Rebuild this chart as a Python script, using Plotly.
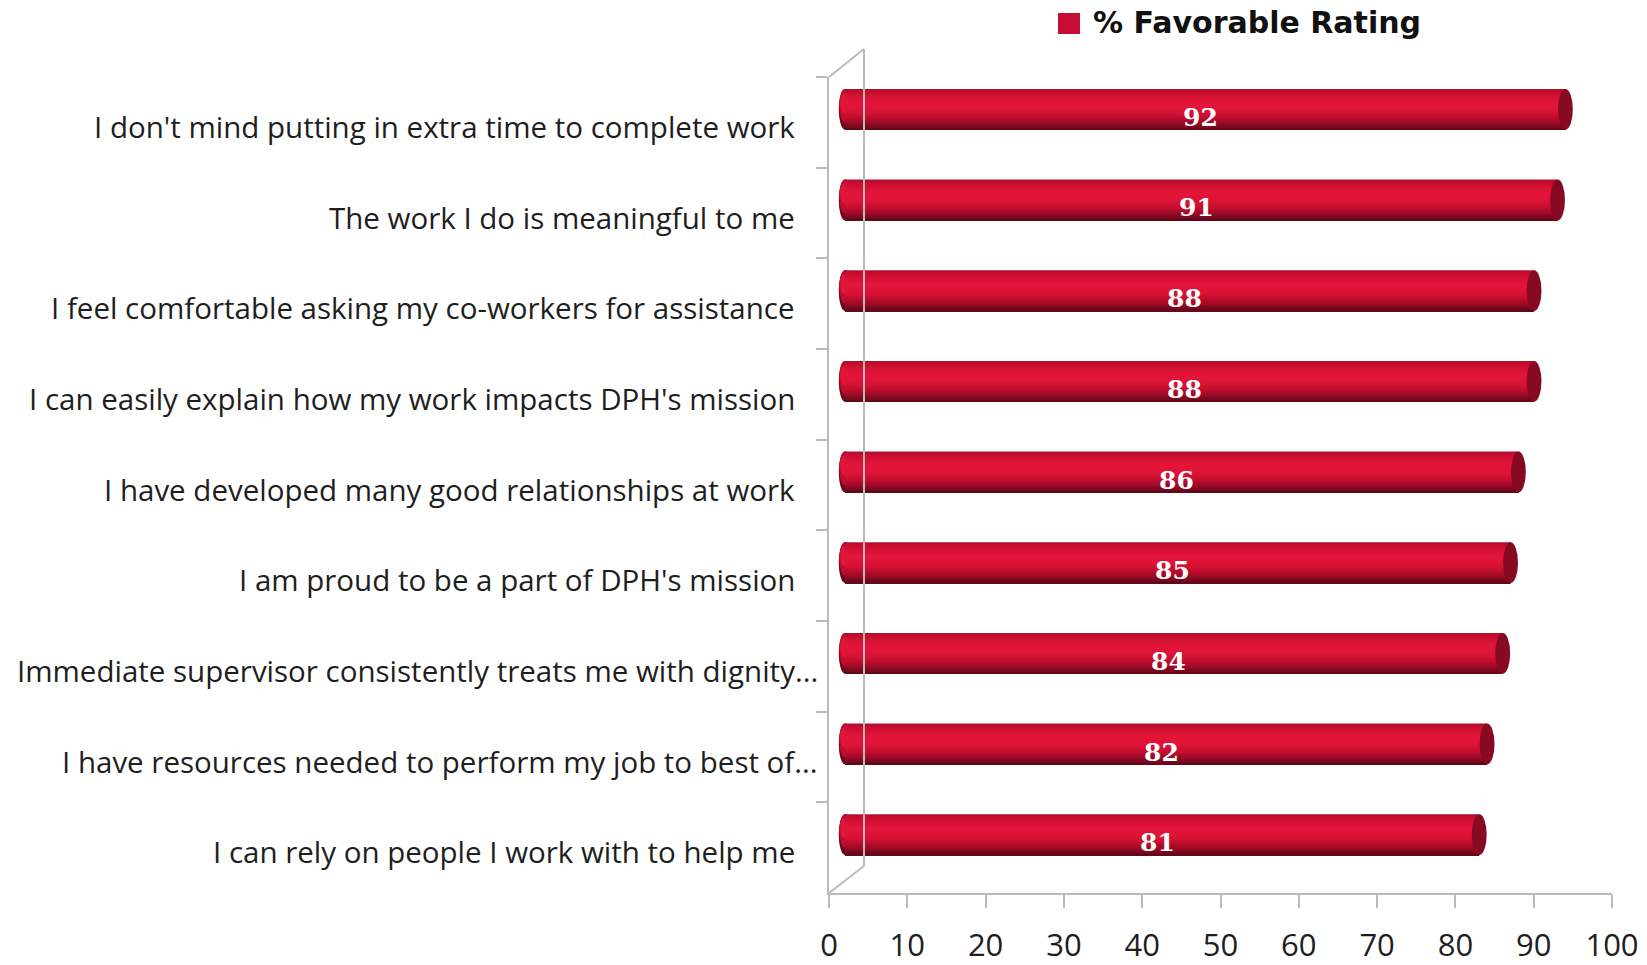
import plotly.graph_objects as go

# ---- data (top row first) ----
categories = [
    "I don't mind putting in extra time to complete work",
    "The work I do is meaningful to me",
    "I feel comfortable asking my co-workers for assistance",
    "I can easily explain how my work impacts DPH's mission",
    "I have developed many good relationships at work",
    "I am proud to be a part of DPH's mission",
    "Immediate supervisor consistently treats me with dignity...",
    "I have resources needed to perform my job to best of...",
    "I can rely on people I work with to help me",
]
values = [92, 91, 88, 88, 86, 85, 84, 82, 81]
series_name = "% Favorable Rating"
x_ticks = [0, 10, 20, 30, 40, 50, 60, 70, 80, 90, 100]

# bottom-up order for the category axis
cats_bu = categories[::-1]
vals_bu = values[::-1]

PAGE_OFF = 0            # body margin removed in the page (post_script)
W, H = 1647 - PAGE_OFF, 965 - PAGE_OFF


def px_x(p):            # page pixel -> paper fraction
    return (p - PAGE_OFF) / W


def px_y(p):
    return 1 - (p - PAGE_OFF) / H


# geometry (page pixels)
front_x0, front_x1 = 829, 1612
front_y_top, front_y_bot = 77, 893
dx, dy = 16, 13            # shift of the bars (middle of the 3-D depth)
back_dx, back_dy = 35, 27  # back wall shift
ppu = (front_x1 - front_x0) / 100.0
x2_lo = -3.0
label_right = 797          # right edge of the category labels
label_right_trunc = 820    # truncated ("...") labels sit further right

bar_w = 0.45

# cylinder shading (top -> bottom)
stops = [
    (0.00, (0xB5, 0x0B, 0x2B)),
    (0.12, (0xCC, 0x0F, 0x31)),
    (0.32, (0xE3, 0x15, 0x3A)),
    (0.50, (0xE0, 0x14, 0x38)),
    (0.68, (0xC6, 0x0E, 0x2F)),
    (0.84, (0x98, 0x0A, 0x25)),
    (1.00, (0x5E, 0x06, 0x17)),
]


def shade(t):
    for (t0, c0), (t1, c1) in zip(stops[:-1], stops[1:]):
        if t0 <= t <= t1:
            f = (t - t0) / (t1 - t0)
            c = [round(a + (b - a) * f) for a, b in zip(c0, c1)]
            return "rgb(%d,%d,%d)" % tuple(c)
    return "rgb(%d,%d,%d)" % stops[-1][1]


n = 22
sw = bar_w / n

fig = go.Figure()
# each band spans from the bar bottom up to its own top edge; drawn top band first
for k in range(n):
    top = bar_w / 2 - k * sw
    fig.add_trace(go.Bar(
        x=vals_bu, y=cats_bu, orientation="h",
        xaxis="x2", yaxis="y2",
        width=top + bar_w / 2, offset=-bar_w / 2,
        marker=dict(color=shade((k + 0.5) / n), line=dict(width=0)),
        showlegend=False, hoverinfo="x+y" if k == 0 else "skip",
        name=series_name,
    ))

# invisible trace on the front axes so that the tick axes are drawn
fig.add_trace(go.Scatter(x=[None], y=[cats_bu[0]], xaxis="x", yaxis="y",
                         mode="markers", showlegend=False, hoverinfo="skip"))

shapes = []
for i, v in enumerate(vals_bu):
    # left rounded end, layered to mimic shading
    shapes.append(dict(type="circle", xref="x2", yref="y2", layer="below",
                       x0=-0.8, x1=0.8, y0=i - bar_w / 2, y1=i + bar_w / 2,
                       fillcolor="#6E081C", line=dict(width=0)))
    shapes.append(dict(type="circle", xref="x2", yref="y2", layer="below",
                       x0=-0.74, x1=0.74, y0=i - bar_w * 0.32, y1=i + bar_w / 2,
                       fillcolor="#BE0E2F", line=dict(width=0)))
    shapes.append(dict(type="circle", xref="x2", yref="y2", layer="below",
                       x0=-0.62, x1=0.62, y0=i - bar_w * 0.1, y1=i + bar_w * 0.4,
                       fillcolor="#E0153A", line=dict(width=0)))
    # right cap
    shapes.append(dict(type="circle", xref="x2", yref="y2", layer="above",
                       x0=v - 0.95, x1=v + 0.95, y0=i - bar_w / 2, y1=i + bar_w / 2,
                       fillcolor="#870A23", line=dict(width=0)))

# back wall / depth lines
gray = "#BDB9B4"
shapes += [
    dict(type="line", xref="paper", yref="paper",
         x0=px_x(front_x0 + back_dx), x1=px_x(front_x0 + back_dx),
         y0=px_y(front_y_top - back_dy - 1), y1=px_y(front_y_bot - back_dy),
         line=dict(color=gray, width=2)),
    dict(type="line", xref="paper", yref="paper",
         x0=px_x(front_x0), x1=px_x(front_x0 + back_dx),
         y0=px_y(front_y_top), y1=px_y(front_y_top - back_dy - 1),
         line=dict(color=gray, width=2)),
    dict(type="line", xref="paper", yref="paper",
         x0=px_x(front_x0), x1=px_x(front_x0 + back_dx),
         y0=px_y(front_y_bot), y1=px_y(front_y_bot - back_dy),
         line=dict(color=gray, width=2)),
    # legend swatch
    dict(type="rect", xref="paper", yref="paper",
         x0=px_x(1058), x1=px_x(1080), y0=px_y(34), y1=px_y(13),
         fillcolor="#C70C33", line=dict(width=0)),
]

annotations = []
# category labels
for c in cats_bu:
    right = label_right_trunc if c.endswith("...") else label_right
    annotations.append(dict(
        xref="paper", yref="y", x=px_x(right), y=c, xanchor="right",
        yanchor="middle", yshift=-4, text=c, showarrow=False,
        font=dict(family="Open Sans", size=29.5, color="#1E1E1E"),
    ))
# value labels
for i, v in enumerate(vals_bu):
    annotations.append(dict(
        xref="x2", yref="y2", x=v / 2, y=i, text=str(v), showarrow=False,
        xshift=-5, yshift=-8,
        font=dict(family="DejaVu Serif", size=25, color="white", weight="bold"),
    ))
# legend text
annotations.append(dict(
    xref="paper", yref="paper", x=px_x(1091), y=px_y(23), xanchor="left",
    yanchor="middle", text="<b>" + series_name + "</b>", showarrow=False,
    font=dict(family="DejaVu Sans", size=30, color="#111111"),
))

fig.update_layout(
    width=W, height=H,
    margin=dict(l=0, r=0, t=0, b=0, autoexpand=False),
    paper_bgcolor="white", plot_bgcolor="rgba(0,0,0,0)",
    barmode="overlay", showlegend=False,
    font=dict(family="Open Sans", color="#1E1E1E"),
    xaxis=dict(domain=[px_x(front_x0), px_x(front_x1)], range=[0, 100],
               anchor="y", tickvals=x_ticks, ticks="outside", ticklen=13,
               tickcolor=gray, tickwidth=2, showline=True, linecolor=gray,
               linewidth=2, showgrid=False, zeroline=False, automargin=False,
               tickfont=dict(size=31, color="#1E1E1E"), ticklabelstandoff=11),
    yaxis=dict(domain=[px_y(front_y_bot), px_y(front_y_top)],
               range=[-0.5, 8.5], anchor="x", type="category",
               categoryorder="array", categoryarray=cats_bu, automargin=False,
               ticks="outside", tickson="boundaries", ticklen=11,
               tickcolor=gray, tickwidth=2, showline=True, linecolor=gray,
               linewidth=2, showgrid=False, showticklabels=False),
    xaxis2=dict(domain=[px_x(front_x0 + dx + x2_lo * ppu), px_x(front_x1 + dx)],
                range=[x2_lo, 100], anchor="y2", visible=False, automargin=False),
    yaxis2=dict(domain=[px_y(front_y_bot - dy), px_y(front_y_top - dy)],
                range=[-0.5, 8.5], anchor="x2", type="category", automargin=False,
                categoryorder="array", categoryarray=cats_bu, visible=False),
    shapes=shapes, annotations=annotations,
)

fig.write_html(
    "out.html",
    config={"displayModeBar": False},
    post_script="document.body.style.margin='0';document.body.style.overflow='hidden';",
)
